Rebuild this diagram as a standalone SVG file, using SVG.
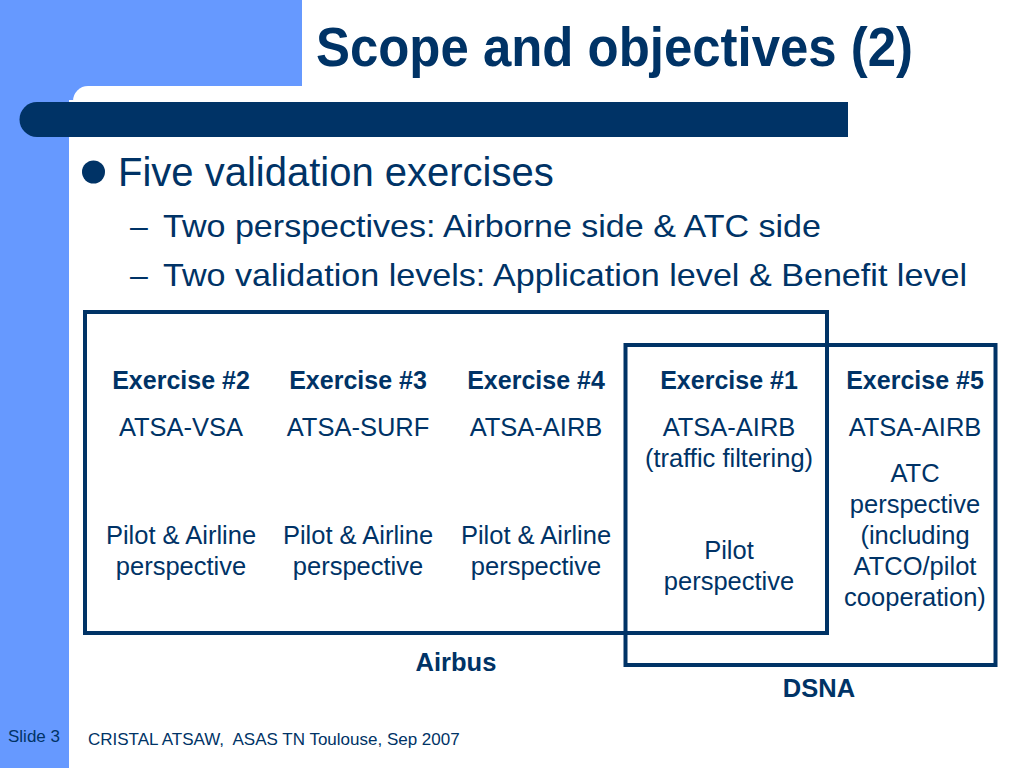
<svg xmlns="http://www.w3.org/2000/svg" width="1024" height="768" viewBox="0 0 1024 768">
<style>
text{font-family:"Liberation Sans",Arial,sans-serif;fill:#003366}
.ex{font-size:25px;font-weight:bold;text-anchor:middle}
.t{font-size:25.5px;text-anchor:middle}
.lbl{font-size:25.5px;font-weight:bold;text-anchor:middle}
.sub{font-size:32px}
.box{fill:none;stroke:#003366;stroke-width:4}
</style>
<rect width="1024" height="768" fill="#ffffff"/>
<g id="background">
<rect x="0" y="0" width="302" height="100" fill="#6699FF"/>
<rect x="0" y="0" width="69" height="768" fill="#6699FF"/>
<rect x="73" y="86" width="300" height="30" fill="#ffffff" rx="15"/>
<rect x="69" y="102" width="240" height="666" fill="#ffffff"/>
<path d="M37 102 H848 V137 H37 A17.5 17.5 0 0 1 37 102 Z" fill="#003366"/>
</g>
<text x="316" y="66" font-size="55" font-weight="bold" textLength="597" lengthAdjust="spacingAndGlyphs">Scope and objectives (2)</text>
<circle cx="93.5" cy="172" r="11.5" fill="#003366"/>
<text x="118" y="186" font-size="40">Five validation exercises</text>
<text class="sub" x="130" y="237">–</text>
<text class="sub" x="163" y="237" textLength="658" lengthAdjust="spacingAndGlyphs">Two perspectives: Airborne side &amp; ATC side</text>
<text class="sub" x="130" y="286">–</text>
<text class="sub" x="163" y="286" textLength="804" lengthAdjust="spacingAndGlyphs">Two validation levels: Application level &amp; Benefit level</text>
<g id="airbus">
<rect class="box" x="85" y="312" width="742" height="321"/>
<text class="lbl" x="456" y="671">Airbus</text>
</g>
<g id="dsna">
<rect class="box" x="625.5" y="345" width="370" height="320"/>
<text class="lbl" x="819" y="697">DSNA</text>
</g>
<g id="ex2">
<text class="ex" x="181" y="389">Exercise #2</text>
<text class="t" x="181" y="436">ATSA-VSA</text>
<text class="t" x="181" y="544">Pilot &amp; Airline</text>
<text class="t" x="181" y="575">perspective</text>
</g>
<g id="ex3">
<text class="ex" x="358" y="389">Exercise #3</text>
<text class="t" x="358" y="436">ATSA-SURF</text>
<text class="t" x="358" y="544">Pilot &amp; Airline</text>
<text class="t" x="358" y="575">perspective</text>
</g>
<g id="ex4">
<text class="ex" x="536" y="389">Exercise #4</text>
<text class="t" x="536" y="436">ATSA-AIRB</text>
<text class="t" x="536" y="544">Pilot &amp; Airline</text>
<text class="t" x="536" y="575">perspective</text>
</g>
<g id="ex1">
<text class="ex" x="729" y="389">Exercise #1</text>
<text class="t" x="729" y="436">ATSA-AIRB</text>
<text class="t" x="729" y="467">(traffic filtering)</text>
<text class="t" x="729" y="559">Pilot</text>
<text class="t" x="729" y="590">perspective</text>
</g>
<g id="ex5">
<text class="ex" x="915" y="389">Exercise #5</text>
<text class="t" x="915" y="436">ATSA-AIRB</text>
<text class="t" x="915" y="482">ATC</text>
<text class="t" x="915" y="513">perspective</text>
<text class="t" x="915" y="544">(including</text>
<text class="t" x="915" y="575">ATCO/pilot</text>
<text class="t" x="915" y="606">cooperation)</text>
</g>
<text x="8" y="742" font-size="17">Slide 3</text>
<text x="88" y="745" font-size="17" xml:space="preserve" style="white-space:pre">CRISTAL ATSAW,  ASAS TN Toulouse, Sep 2007</text>
</svg>
